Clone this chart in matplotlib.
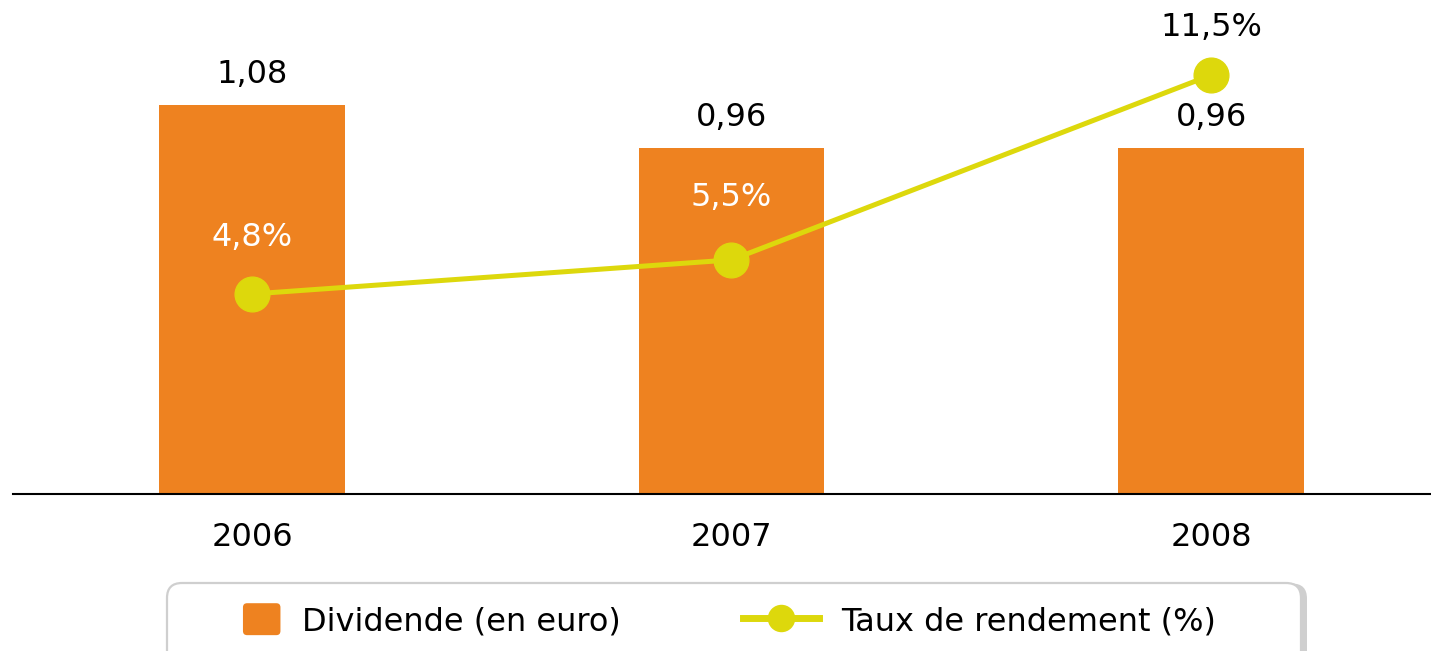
import matplotlib.pyplot as plt
import matplotlib.patches as mpatches
from matplotlib.legend_handler import HandlerPatch
import numpy as np

years = ['2006', '2007', '2008']
dividende = [1.08, 0.96, 0.96]
rendement = [4.8, 5.5, 11.5]
div_labels = ['1,08', '0,96', '0,96']
rend_labels = ['4,8%', '5,5%', '11,5%']

orange = '#EE8220'
yellow = '#DDD80C'
frame_gray = '#cfcfcf'

plt.rcParams['font.family'] = 'DejaVu Sans'
fs = 23

fig = plt.figure(figsize=(14.31, 6.51), dpi=100)
ax = fig.add_axes([13 / 1431, 157 / 651, 1418 / 1431, 494 / 651])

x = np.arange(len(years))
bars = ax.bar(x, dividende, width=0.386, color=orange, zorder=2)
for xi, v, lab in zip(x, dividende, div_labels):
    ax.annotate(lab, (xi, v), xytext=(0, 22), textcoords='offset points',
                ha='center', va='center', fontsize=fs, color='black')

ax.set_xlim(-0.4984, 2.4588)
ax.set_ylim(0, 494 / 360)
ax.set_xticks(x)
ax.set_xticklabels(years, fontsize=fs)
ax.tick_params(axis='x', length=0, pad=20)
ax.set_yticks([])
for s in ['top', 'left', 'right']:
    ax.spines[s].set_visible(False)
ax.spines['bottom'].set_linewidth(1.5)
ax.spines['bottom'].set_color('black')

ax2 = ax.twinx()
ax2.set_yscale('log')
ax2.set_ylim(2.16, 15.52)
line, = ax2.plot(x, rendement, color=yellow, linewidth=3.6, marker='o', markersize=25, zorder=3)
ax2.set_yticks([])
ax2.yaxis.set_minor_locator(plt.NullLocator())
for s in ax2.spines.values():
    s.set_visible(False)

label_colors = ['white', 'white', 'black']
label_offsets = [41, 45, 34]
for xi, v, lab, c, off in zip(x, rendement, rend_labels, label_colors, label_offsets):
    ax2.annotate(lab, (xi, v), xytext=(0, off), textcoords='offset points',
                 ha='center', va='center', fontsize=fs, color=c)

# legend frame drawn by hand (rounded box with a grey shadow on the right)
shadow = mpatches.FancyBboxPatch((1.71, -0.3), 11.36, 0.975,
                                 boxstyle='round,pad=0,rounding_size=0.15',
                                 transform=fig.dpi_scale_trans, facecolor=frame_gray,
                                 edgecolor='none', zorder=1)
frame = mpatches.FancyBboxPatch((1.67, -0.3), 11.34, 0.98,
                                boxstyle='round,pad=0,rounding_size=0.15',
                                transform=fig.dpi_scale_trans, facecolor='white',
                                edgecolor=frame_gray, linewidth=1.6, zorder=2)
fig.patches.extend([shadow, frame])


# small rounded square for the bar entry, sitting at the right of the handle box
def square_handle(legend, orig_handle, xdescent, ydescent, width, height, fontsize):
    w, h = 27, 23
    return mpatches.FancyBboxPatch((width - w - xdescent, -ydescent + (height - h) / 2), w, h,
                                   boxstyle='round,pad=0,rounding_size=3')


leg = fig.legend([bars[0], line], ['Dividende (en euro)', 'Taux de rendement (%)'],
                 loc='center', bbox_to_anchor=(710 / 1431, 30 / 651), ncol=2,
                 fontsize=fs, frameon=False, handlelength=2.4,
                 handleheight=1.0, handletextpad=0.69, columnspacing=3.8,
                 borderpad=0, borderaxespad=0, markerscale=0.75,
                 handler_map={mpatches.Rectangle: HandlerPatch(patch_func=square_handle)})
leg.set_zorder(5)
for lh in leg.get_lines():
    lh.set_linewidth(5)

fig.savefig('out.png', dpi=100)
